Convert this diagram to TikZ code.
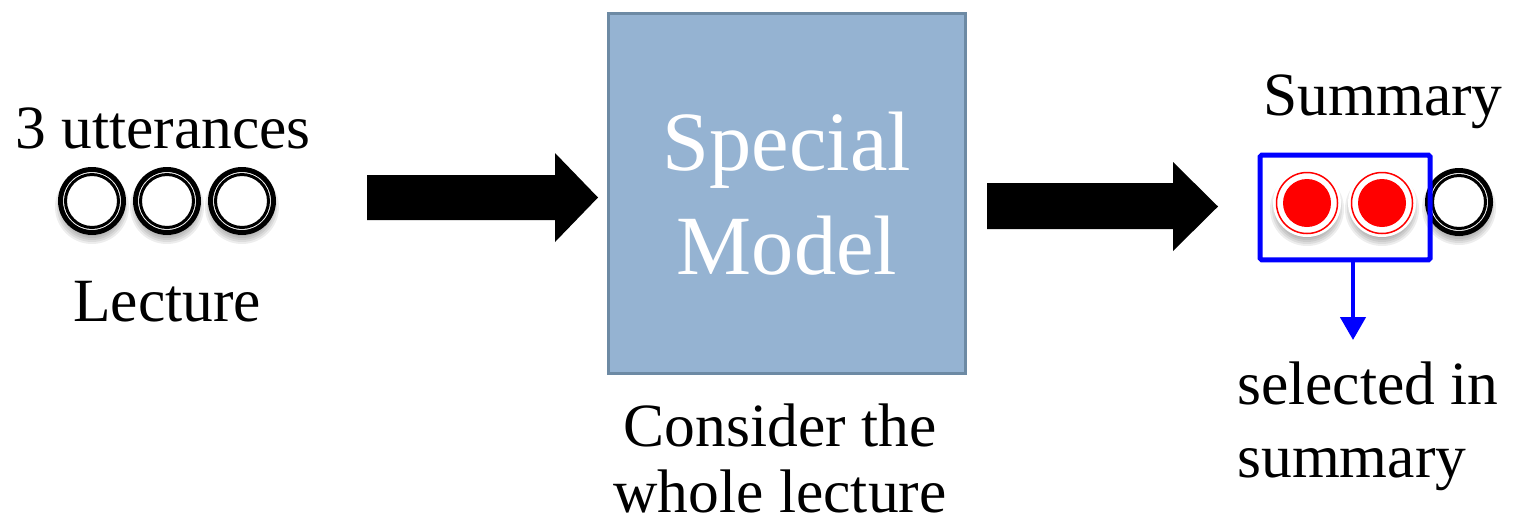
\documentclass[tikz,border=0pt]{standalone}
\usepackage{fontspec}
\setmainfont{Liberation Serif}
\usetikzlibrary{arrows.meta}
\definecolor{modelfill}{HTML}{95B3D2}
\definecolor{modelline}{HTML}{6D8AA4}
\tikzset{
  lbl/.style={font=\fontsize{35}{39}\selectfont, inner sep=0pt},
  modelbox/.style={draw=modelline, fill=modelfill, line width=0.06cm,
    minimum width=7.14cm, minimum height=7.2cm, inner sep=0pt,
    text=white, align=center, font=\fontsize{48}{59}\selectfont},
  selbox/.style={draw=blue, line width=0.1cm, rounded corners=1pt,
    minimum width=3.4cm, minimum height=2.1cm, inner sep=0pt},
}
\begin{document}
\begin{tikzpicture}[x=0.02cm, y=-0.02cm]
  \useasboundingbox (0,0) rectangle (1513,525);

  % lecture with its utterances
  \node[lbl, anchor=base] (utt) at (163,148) {3 utterances};
  \foreach \x in {92,167,242} {
    \foreach \r in {37,35,...,29}
      \fill[black, opacity=0.07] (\x,207) circle (\r);
    \fill[white] (\x,201) circle (34);
    \draw[line width=0.1cm] (\x,201) circle (31.5);
    \draw[line width=0.06cm] (\x,201) circle (26.5);
  }
  \node[lbl, anchor=base] (lecture) at (167,321) {Lecture};

  % arrow into the model
  \fill (367,175) -- (555,175) -- (555,153) -- (598,197.5)
    -- (555,242) -- (555,220) -- (367,220) -- cycle;

  \node[modelbox] (model) at (787,193.5) {Special\\Model};
  \node[lbl, anchor=north, align=center, font=\fontsize{35}{38}\selectfont]
    (whole) at (780,403) {Consider the\\whole lecture};

  % arrow out of the model
  \fill (987,183) -- (1173,183) -- (1173,162) -- (1218,206.5)
    -- (1173,251) -- (1173,229) -- (987,229) -- cycle;

  % summary
  \node[lbl, anchor=base] (summary) at (1383,115) {Summary};
  \foreach \x in {1307,1382} {
    \foreach \r in {37,35,...,29}
      \fill[black, opacity=0.07] (\x,209) circle (\r);
    \fill[white] (\x,203) circle (34);
    \draw[red, line width=0.03cm] (\x,203) circle (30.5);
    \fill[red] (\x,203) circle (24);
  }
  \foreach \r in {37,35,...,29}
    \fill[black, opacity=0.07] (1459,208) circle (\r);
  \fill[white] (1459,202) circle (34);
  \draw[line width=0.1cm] (1459,202) circle (31.5);
  \draw[line width=0.06cm] (1459,202) circle (26.5);

  \node[selbox] (sel) at (1345,207.5) {};
  \coordinate (seltip) at (1353,340);
  \draw[blue, line width=0.09cm, -{Triangle[width=0.5cm, length=0.46cm]}]
    (sel.south -| seltip) -- (seltip);
  \node[lbl, anchor=north west, align=left, font=\fontsize{35}{42}\selectfont]
    (picked) at (1237,361) {selected in\\summary};
\end{tikzpicture}
\end{document}
